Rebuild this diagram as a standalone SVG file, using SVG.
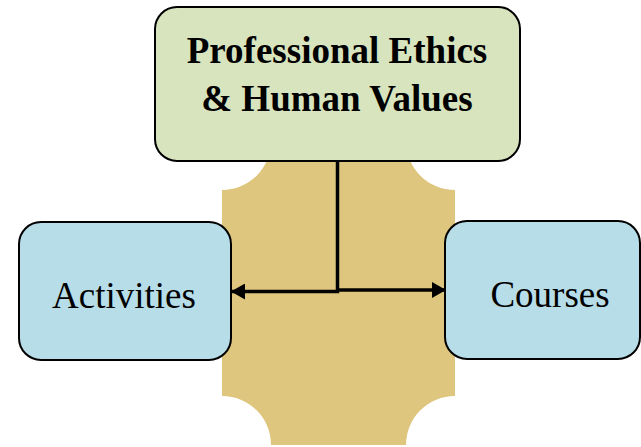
<svg xmlns="http://www.w3.org/2000/svg" width="641" height="447" viewBox="0 0 641 447">
<style>
.box{stroke:#000;stroke-width:2}
.t{font-family:"Liberation Serif","Times New Roman",serif;font-size:37px;fill:#000;text-anchor:middle}
.b{font-weight:bold}
.c{fill:none;stroke:#000;stroke-width:3.5}
</style>
<defs>
<marker id="ah" viewBox="0 0 14 16" refX="13" refY="8" markerWidth="14" markerHeight="16" markerUnits="userSpaceOnUse" orient="auto">
<path d="M0,0 L14,8 L0,16 Z" fill="#000"/>
</marker>
</defs>
<g id="background">
<path d="M271,141 L406,141 A49,49 0 0 0 455,190 L455,396 A49,49 0 0 0 406,445 L271,445 A49,49 0 0 0 222,396 L222,190 A49,49 0 0 0 271,141 Z" fill="#dfc67e"/>
</g>
<g id="node-main">
<rect class="box" x="155" y="7" width="365" height="154" rx="22" fill="#d7e4bd"/>
<text class="t b" x="337" y="63">Professional Ethics</text>
<text class="t b" x="337" y="111">&amp; Human Values</text>
</g>
<g id="node-activities">
<rect class="box" x="19" y="222" width="212" height="138" rx="22" fill="#b7dde8"/>
<text class="t" x="124" y="308">Activities</text>
</g>
<g id="node-courses">
<rect class="box" x="445" y="221" width="195" height="138" rx="22" fill="#b7dde8"/>
<text class="t" x="550" y="307">Courses</text>
</g>
<g id="connectors">
<polyline class="c" points="337.5,161 337.5,291.5 232,291.5" marker-end="url(#ah)"/>
<polyline class="c" points="337.5,290 445,290" marker-end="url(#ah)"/>
</g>
</svg>
